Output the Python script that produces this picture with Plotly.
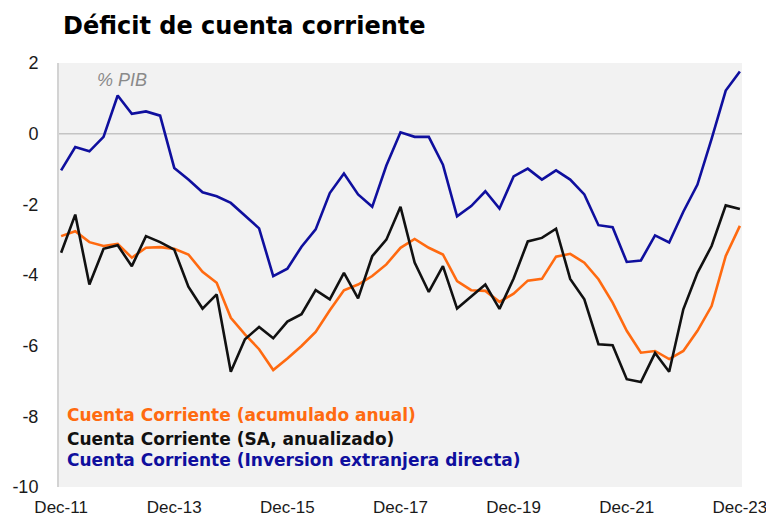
import plotly.graph_objects as go

# Quarterly observations, Dec-11 .. Dec-23 (49 quarters)
quarters = list(range(49))
tick_positions = [0, 8, 16, 24, 32, 40, 48]
tick_labels = ["Dec-11", "Dec-13", "Dec-15", "Dec-17", "Dec-19", "Dec-21", "Dec-23"]
y_ticks = [2, 0, -2, -4, -6, -8, -10]
y_tick_labels = ["2", "0", "-2", "-4", "-6", "-8", "-10"]

cc_acumulado = [
    -2.90, -2.76, -3.07, -3.18, -3.12, -3.51, -3.23, -3.21, -3.26, -3.42,
    -3.91, -4.22, -5.21, -5.68, -6.10, -6.69, -6.36, -6.01, -5.61, -5.00,
    -4.43, -4.27, -4.03, -3.70, -3.23, -2.98, -3.23, -3.42, -4.17, -4.43,
    -4.45, -4.76, -4.53, -4.16, -4.11, -3.48, -3.40, -3.65, -4.12, -4.78,
    -5.58, -6.20, -6.15, -6.38, -6.15, -5.58, -4.88, -3.46, -2.61,
]
cc_sa = [
    -3.37, -2.29, -4.27, -3.26, -3.16, -3.75, -2.90, -3.07, -3.28, -4.33,
    -4.95, -4.55, -6.74, -5.82, -5.47, -5.79, -5.32, -5.11, -4.43, -4.69,
    -3.94, -4.66, -3.47, -3.00, -2.07, -3.65, -4.48, -3.75, -4.95, -4.60,
    -4.27, -4.96, -4.10, -3.05, -2.95, -2.69, -4.11, -4.69, -5.96, -5.99,
    -6.95, -7.03, -6.21, -6.74, -4.97, -3.94, -3.18, -2.03, -2.13,
]
cc_ied = [
    -1.04, -0.38, -0.50, -0.09, 1.08, 0.56, 0.63, 0.51, -0.97, -1.30,
    -1.66, -1.77, -1.96, -2.31, -2.68, -4.03, -3.82, -3.20, -2.71, -1.68,
    -1.13, -1.72, -2.07, -0.90, 0.04, -0.09, -0.09, -0.88, -2.34, -2.05,
    -1.63, -2.12, -1.21, -0.99, -1.30, -1.04, -1.30, -1.72, -2.59, -2.65,
    -3.63, -3.59, -2.88, -3.08, -2.21, -1.44, -0.15, 1.22, 1.76,
]

series_names = [
    "Cuenta Corriente (acumulado anual)",
    "Cuenta Corriente (SA, anualizado)",
    "Cuenta Corriente (Inversion extranjera directa)",
]
colors = ["#ff6a10", "#111111", "#0f0f9e"]

fig = go.Figure()
for name, vals, col in zip(series_names, [cc_acumulado, cc_sa, cc_ied], colors):
    fig.add_trace(go.Scatter(x=quarters, y=vals, mode="lines", name=name,
                             line=dict(color=col, width=2.6), showlegend=False))

fig.add_hline(y=0, line=dict(color="#c4c4c4", width=1.5), layer="below")

# legend as coloured text
legend_y = [0.170, 0.113, 0.064]
for name, col, yy in zip(series_names, colors, legend_y):
    fig.add_annotation(text=name, xref="paper", yref="paper", x=0.009, y=yy,
                       xanchor="left", yanchor="middle", showarrow=False,
                       font=dict(family="DejaVu Sans", size=17, color=col, weight="bold"))

fig.add_annotation(text="<i>% PIB</i>", xref="paper", yref="paper", x=0.092, y=0.96,
                   xanchor="center", yanchor="middle", showarrow=False,
                   font=dict(family="Liberation Sans, Arial", size=18, color="#8a8a8a"))

fig.update_layout(
    width=774, height=520,
    margin=dict(l=51, r=40, t=55, b=41, autoexpand=False),
    showlegend=False,
    paper_bgcolor="white", plot_bgcolor="#f2f2f2",
    title=dict(text="<b>Déficit de cuenta corriente</b>", xref="container", yref="container",
               x=55 / 774, xanchor="left", y=1 - 18 / 520, yanchor="middle",
               font=dict(family="DejaVu Sans", size=24, color="#000000")),
    font=dict(family="Liberation Sans, Arial", size=18, color="#1a1a1a"),
    xaxis=dict(range=[-0.15, 48.15], tickvals=tick_positions, ticktext=tick_labels,
               showgrid=False, zeroline=False, showline=False, automargin=False,
               ticks="outside", ticklen=5, tickcolor="rgba(0,0,0,0)",
               tickfont=dict(size=17)),
    yaxis=dict(range=[-10, 2], tickvals=y_ticks, ticktext=y_tick_labels,
               showgrid=False, zeroline=False, showline=True, linecolor="#d3d3d3", linewidth=2,
               automargin=False,
               ticks="outside", ticklen=15, tickcolor="rgba(0,0,0,0)",
               tickfont=dict(size=18)),
)

fig.write_html("out.html")
